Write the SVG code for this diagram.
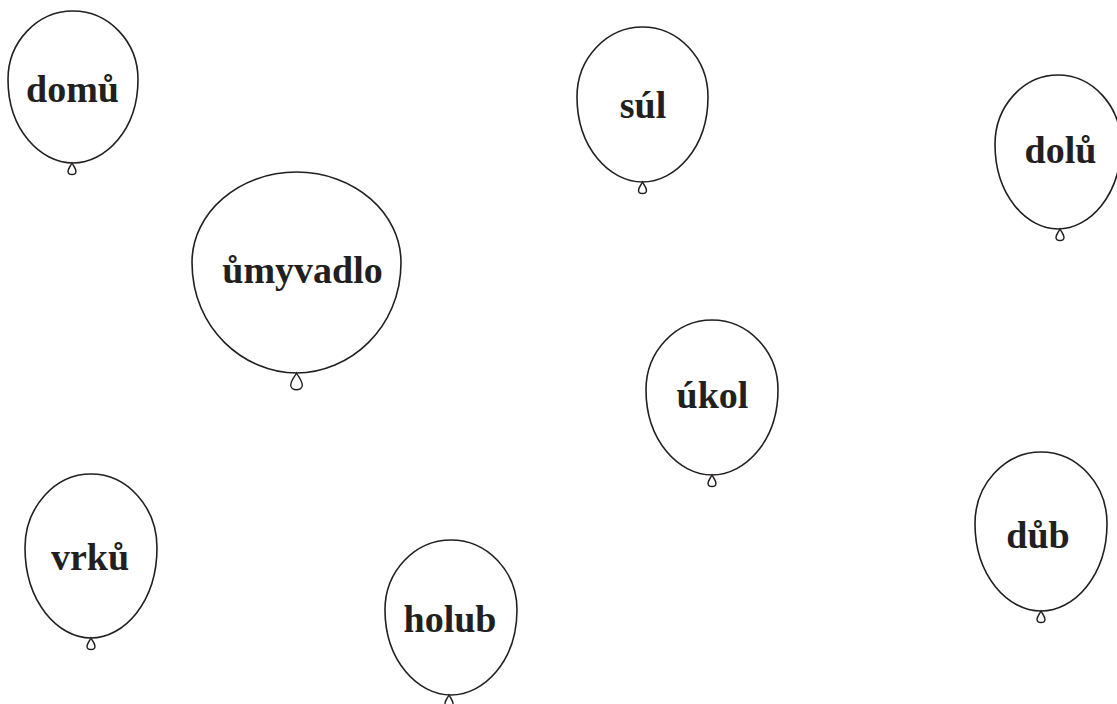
<svg xmlns="http://www.w3.org/2000/svg" xmlns:xlink="http://www.w3.org/1999/xlink" width="1117" height="704" viewBox="0 0 1117 704">
<style>
.b{fill:#fff;stroke:#231f20;stroke-width:1.6}
.k{fill:#fff;stroke:#231f20;stroke-width:1.4;vector-effect:non-scaling-stroke}
.t{font-family:"Liberation Serif","Times New Roman",serif;font-weight:bold;font-size:38px;fill:#231f20;text-anchor:middle}
</style>
<defs>
<path id="knot" class="k" d="M0,0 C-1.5,3 -4,5.5 -4,8.5 C-4,12.5 4,12.5 4,8.5 C4,5.5 1.5,3 0,0Z"/>
</defs>
<rect width="1117" height="704" fill="#fff"/>
<g id="n-domu">
<path class="b" d="M73,11 C108.75,11 138,41.8 138,79.4 C138,129.6 105.5,163 73,163 C40.5,163 8,129.6 8,79.4 C8,41.8 37.25,11 73,11Z"/>
<use xlink:href="#knot" href="#knot" transform="translate(72,163)"/>
<text class="t" x="72.5" y="102">domů</text>
</g>
<g id="n-umyvadlo">
<path class="b" d="M296.5,172 C354,172 401,212.7 401,262.5 C401,328.8 348.75,373 296.5,373 C244.25,373 192,328.8 192,262.5 C192,212.7 239,172 296.5,172Z"/>
<use xlink:href="#knot" href="#knot" transform="translate(296.5,373) scale(1.45)"/>
<text class="t" x="302.5" y="283">ůmyvadlo</text>
</g>
<g id="n-sul">
<path class="b" d="M642.5,27 C678.5,27 708,58.4 708,96.75 C708,147.9 675.25,182 642.5,182 C609.75,182 577,147.9 577,96.75 C577,58.4 606.5,27 642.5,27Z"/>
<use xlink:href="#knot" href="#knot" transform="translate(642.5,182)"/>
<text class="t" x="643" y="118">súl</text>
</g>
<g id="n-dolu">
<path class="b" d="M1058,75 C1092.65,75 1121,106.2 1121,144.3 C1121,195.1 1089.5,229 1058,229 C1026.5,229 995,195.1 995,144.3 C995,106.2 1023.35,75 1058,75Z"/>
<use xlink:href="#knot" href="#knot" transform="translate(1060,229)"/>
<text class="t" x="1060.5" y="163">dolů</text>
</g>
<g id="n-ukol">
<path class="b" d="M712,320 C748.3,320 778,351.4 778,389.75 C778,440.9 745,475 712,475 C679,475 646,440.9 646,389.75 C646,351.4 675.7,320 712,320Z"/>
<use xlink:href="#knot" href="#knot" transform="translate(712,475)"/>
<text class="t" x="712.5" y="408">úkol</text>
</g>
<g id="n-vrku">
<path class="b" d="M91,474 C127.3,474 157,507.2 157,547.8 C157,601.9 124,638 91,638 C58,638 25,601.9 25,547.8 C25,507.2 54.7,474 91,474Z"/>
<use xlink:href="#knot" href="#knot" transform="translate(91,638)"/>
<text class="t" x="90" y="570">vrků</text>
</g>
<g id="n-holub">
<path class="b" d="M451,540 C487.3,540 517,571.4 517,609.75 C517,660.9 484,695 451,695 C418,695 385,660.9 385,609.75 C385,571.4 414.7,540 451,540Z"/>
<use xlink:href="#knot" href="#knot" transform="translate(449,695)"/>
<text class="t" x="450" y="632">holub</text>
</g>
<g id="n-dub">
<path class="b" d="M1041,452 C1077.3,452 1107,484.2 1107,523.55 C1107,576 1074,611 1041,611 C1008,611 975,576 975,523.55 C975,484.2 1004.7,452 1041,452Z"/>
<use xlink:href="#knot" href="#knot" transform="translate(1041,611)"/>
<text class="t" x="1038" y="548">důb</text>
</g>
<g id="connectors"/>
</svg>
